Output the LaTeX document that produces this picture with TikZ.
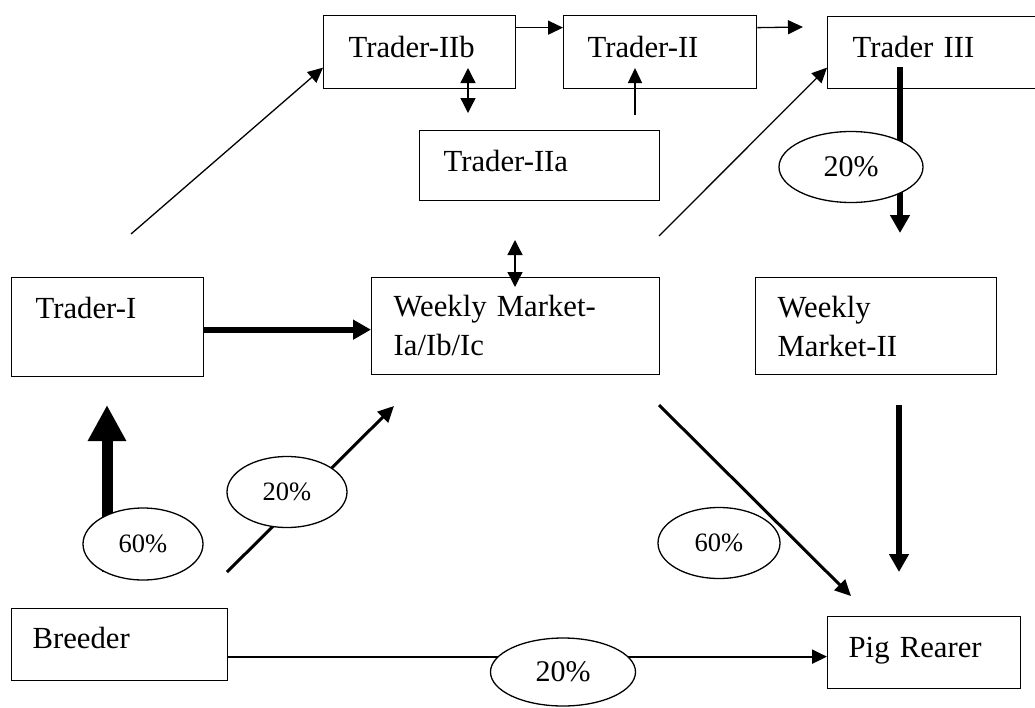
\documentclass[tikz,border=0pt]{standalone}
\usepackage{fontspec}
\setmainfont{Liberation Serif}
\usetikzlibrary{arrows.meta,shapes.geometric}

\tikzset{
  box/.style={draw, line width=1.3pt, anchor=north west, inner ysep=0pt,
    align=left, font=\fontsize{30.7}{39}\selectfont},
  pct/.style={ellipse, draw, fill=white, line width=1.3pt, inner sep=0pt,
    font=\fontsize{26.5}{30}\selectfont},
  bigpct/.style={pct, font=\fontsize{30}{34}\selectfont},
  thinarr/.style={line width=1.3pt, -{Triangle[length=15pt,width=14pt]}},
  dblarr/.style={line width=1.3pt, {Triangle[length=15pt,width=15pt]}-{Triangle[length=15pt,width=15pt]}},
  medarr/.style={line width=3pt, -{Triangle[length=16pt,width=15pt]}},
  thickarr/.style={line width=6pt, -{Triangle[length=18pt,width=19pt]}},
  hugearr/.style={line width=11pt, -{Triangle[length=36pt,width=36pt]}}
}

\begin{document}
\begin{tikzpicture}[x=1pt, y=-1pt]
  \useasboundingbox (0,0) rectangle (1035,707);

  % traders
  \node[box, inner xsep=25pt, text width=142pt, text height=42pt, text depth=31pt] (tIIb) at (323,15) {Trader-IIb};
  \node[box, inner xsep=24pt, text width=145pt, text height=42pt, text depth=31pt] (tII) at (563,15) {Trader-II};
  \node[box, inner xsep=25pt, text width=180pt, text height=41pt, text depth=31pt] (tIII) at (827,16) {Trader III};
  \node[box, inner xsep=24pt, text width=192pt, text height=41pt, text depth=29pt] (tIIa) at (419,130) {Trader-IIa};
  \node[box, inner xsep=24pt, text width=144pt, text height=41pt, text depth=58pt] (tI) at (11,277) {Trader-I};

  % markets
  \node[box, inner xsep=22pt, text width=244pt, text height=39pt, text depth=58pt] (wmI) at (371,277) {Weekly Market-\\Ia/Ib/Ic};
  \node[box, inner xsep=22pt, text width=197pt, text height=40pt, text depth=57pt] (wmII) at (755,277) {Weekly\\Market-II};

  % ends of the chain
  \node[box, inner xsep=21pt, text width=174pt, text height=40pt, text depth=32pt] (br) at (11,608) {Breeder};
  \node[box, inner xsep=21pt, text width=151pt, text height=41pt, text depth=31pt] (pig) at (827,616) {Pig Rearer};

  % free ends of the connectors
  \coordinate (tIIout) at (803,27);
  \coordinate (ablUp) at (468,68);
  \coordinate (ablDn) at (468,113);
  \coordinate (aIIaFrom) at (635,115);
  \coordinate (aIIaTo) at (635,68);
  \coordinate (tIout) at (131,234);
  \coordinate (wmIup) at (659,236);
  \coordinate (wmUp) at (515,240);
  \coordinate (wmDn) at (515,287);
  \coordinate (brUp) at (107,572);
  \coordinate (tIin) at (107,405);
  \coordinate (brDiag) at (227,572);
  \coordinate (wmIin) at (394,406);
  \coordinate (wmIdown) at (659,405);
  \coordinate (pigIn) at (851,596);
  \coordinate (tIIIdown) at (900,67);
  \coordinate (wmIIin) at (900,233);
  \coordinate (wmIIdown) at (899,405);
  \coordinate (pigTop) at (899,572);

  \draw[thinarr] ([yshift=24.5pt]tIIb.east) -- ([yshift=24.5pt]tII.west);
  \draw[thinarr] ([yshift=24.5pt]tII.east) -- (tIIout);
  \draw[dblarr] (ablUp) -- (ablDn);
  \draw[thinarr] (aIIaFrom) -- (aIIaTo);
  \draw[thinarr] (tIout) -- ([yshift=-15.5pt]tIIb.west);
  \draw[thinarr] (wmIup) -- ([yshift=-15pt]tIII.west);
  \draw[dblarr] (wmUp) -- (wmDn);
  \draw[thickarr] ([yshift=-2.5pt]tI.east) -- ([yshift=-3.5pt]wmI.west);
  \draw[hugearr] (brUp) -- (tIin);
  \draw[medarr] (brDiag) -- (wmIin);
  \draw[medarr] (wmIdown) -- (pigIn);
  \draw[thickarr] (tIIIdown) -- (wmIIin);
  \draw[thickarr] (wmIIdown) -- (pigTop);
  \draw[thinarr, line width=2pt] ([yshift=-12pt]br.east) -- ([yshift=-4pt]pig.west);

  % shares
  \node[pct, minimum width=120pt, minimum height=72pt] (s60br) at (143,544) {60\%};
  \node[pct, minimum width=120pt, minimum height=71pt] (s20br) at (287,492) {20\%};
  \node[bigpct, minimum width=144pt, minimum height=71pt] (s20tIII) at (851,167) {20\%};
  \node[pct, minimum width=122pt, minimum height=71pt] (s60wm) at (719,543) {60\%};
  \node[bigpct, minimum width=145pt, minimum height=68pt] (s20pig) at (563,672) {20\%};
\end{tikzpicture}
\end{document}
